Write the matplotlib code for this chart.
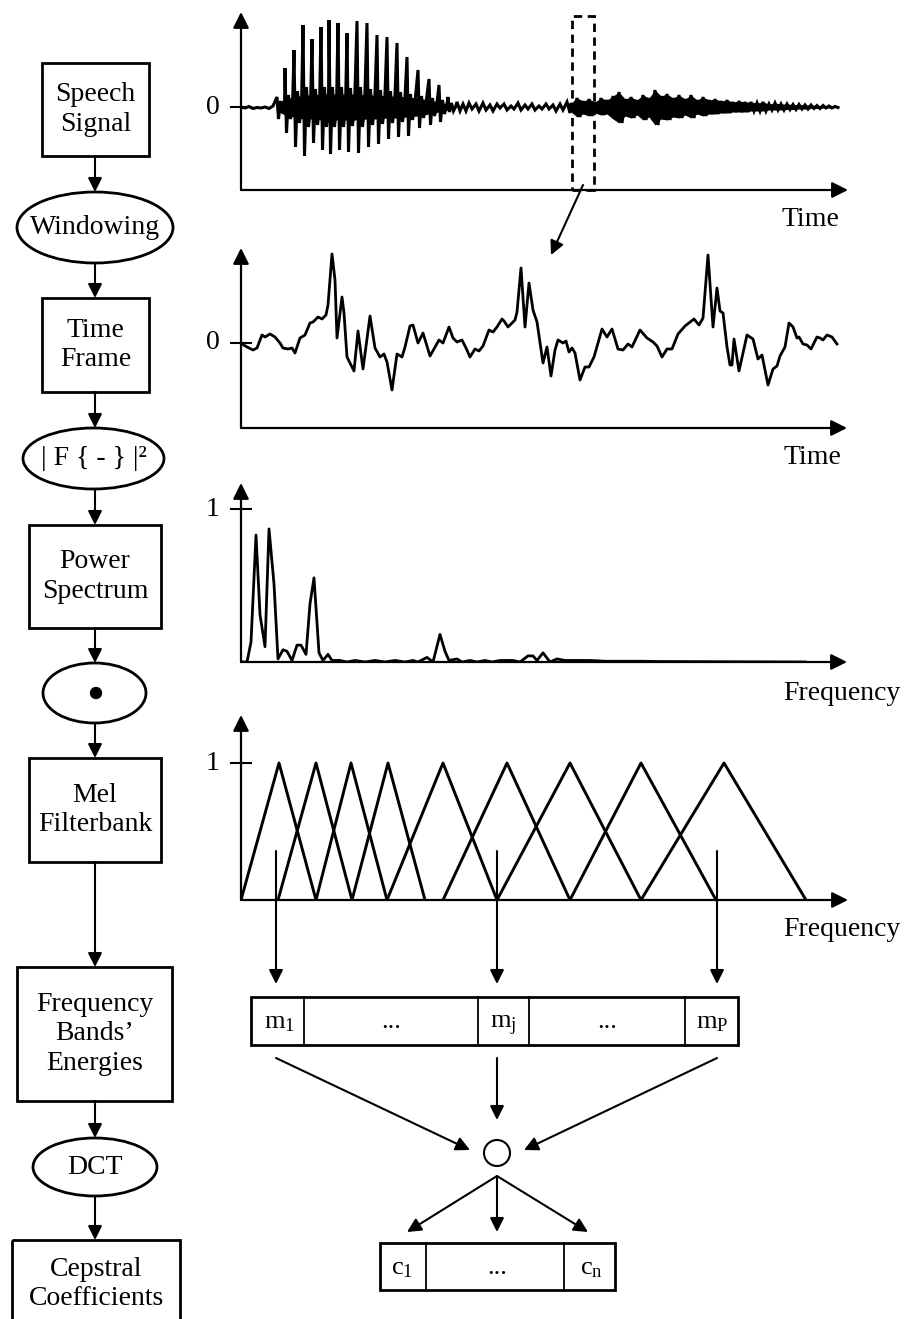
import matplotlib
matplotlib.use('Agg')
import matplotlib.pyplot as plt
from matplotlib.patches import Rectangle, Ellipse, Circle

plt.rcParams['font.family'] = ['Liberation Serif', 'DejaVu Serif']
plt.rcParams['mathtext.fontset'] = 'custom'
plt.rcParams['mathtext.rm'] = 'Liberation Serif'
plt.rcParams['mathtext.it'] = 'Liberation Serif:italic'

# ---- speech signal (samples, arbitrary amplitude) ----
lead_t = [0, 4, 8, 12, 16, 20, 24, 28, 32]
lead_a = [0, -1, 0.5, -1.5, -0.5, -1, 0, -1.5, 1]

# voiced part: one glottal pulse per pitch period
pulse_t = [36, 44, 53, 62, 71, 80, 88, 97, 106, 116, 126, 136, 146, 156, 166, 177, 188, 198, 207]
pulse_up = [10, 39, 57, 82, 68, 80, 87, 84, 74, 86, 84, 72, 70, 64, 50, 37, 28, 22, 10]
pulse_dn = [12, 26, 40, 49, 36, 43, 47, 43, 45, 46, 40, 37, 32, 30, 29, 21, 18, 15, 5]
pulse_mid = [6, 12, 16, 20, 18, 20, 20, 20, 19, 20, 18, 17, 16, 15, 13, 11, 9, 7, 4]
voiced_band = [4, 8, 10, 12, 12, 13, 13, 13, 13, 13, 12, 12, 11, 11, 10, 9, 7, 5, 3]

# quiet stretch between voiced and unvoiced parts
gap_t = [216, 219, 222, 225, 228, 231, 235, 238, 242, 245, 249, 252, 256, 259, 263, 266, 270,
         273, 277, 280, 284, 287, 291, 294, 298, 301, 305, 308, 312, 315, 319, 322, 326, 329]
gap_a = [5, -4, 3, -4, 4, -2, 3, -4, 4, -3, 2, -4, 3, -1, 3, -3, 1, -2, 4, -3, 2, -2, 3, -3,
         1, -2, 3, -2, 2, -4, 3, -3, 5, -6]

# unvoiced (noisy) part: envelope above / below zero
noise_t = [330, 336, 342, 348, 354, 360, 366, 372, 378, 384, 390, 396, 402, 408, 414,
           420, 426, 432, 438, 444, 450, 456, 462, 468, 474, 480, 486, 492, 498, 504,
           510, 516, 522, 528, 534, 540, 546, 552, 558, 564, 570, 576, 582, 588, 594]
noise_hi = [4, 9, 6, 8, 5, 9, 7, 11, 15, 8, 10, 7, 12, 9, 17, 11, 13, 9, 12, 8, 12, 7, 10, 7, 8,
            6, 7, 5, 6, 5, 5, 4, 5, 3, 4, 3, 3, 2.5, 2.5, 2, 2, 1.5, 1.5, 1, 0.5]
noise_lo = [5, 10, 7, 9, 6, 8, 7, 12, 16, 9, 11, 8, 13, 10, 18, 12, 13, 10, 11, 8, 11, 7, 9, 7, 7,
            6, 6, 5, 5, 5, 4, 4, 4, 3, 3, 3, 2.5, 2.5, 2, 2, 1.5, 1.5, 1, 1, 0.5]
frame_sel = (331, 353)

# ---- one time frame ----
frame_t = [1, 6, 12, 16, 21, 24, 29, 34, 39, 42,
           47, 51, 54, 59, 64, 69, 72, 77, 81, 85,
           87, 91, 94, 96, 101, 103, 106, 109, 113, 117,
           122, 129, 134, 139, 143, 146, 151, 156, 161, 164,
           169, 172, 177, 182, 189, 194, 198, 202, 208, 212,
           216, 221, 225, 229, 234, 238, 242, 248, 252, 256,
           261, 263, 267, 274, 276, 280, 284, 288, 292, 296,
           302, 306, 310, 314, 317, 322, 325, 328, 331, 334,
           339, 344, 348, 353, 361, 366, 371, 377, 382, 387,
           391, 399, 406, 412, 416, 421, 426, 431, 437, 444,
           453, 458, 462, 467, 472, 476, 479, 482, 486, 489,
           491, 493, 498, 506, 509, 512, 517, 521, 527, 532,
           536, 539, 544, 548, 552, 556, 558, 562, 566, 570,
           576, 579, 582, 586, 591, 596]
frame_a = [-1, -4, -7, -5, 8, 6, 9, 6, 0, -5,
           -6, -5, -10, 5, 8, 20, 21, 26, 24, 28,
           38, 89, 63, 5, 46, 30, -14, -20, -28, 12,
           -26, 27, -5, -14, -11, -19, -47, -11, -14, -4,
           17, 18, 0, 10, -13, -4, 3, 0, 16, 5,
           1, 3, -5, -14, -6, -8, -3, 13, 11, 16,
           24, 22, 16, 23, 31, 75, 16, 60, 33, 21,
           -20, -4, -33, -7, 3, 0, 2, -9, -5, -10,
           -37, -24, -24, -14, 14, 6, 14, -6, -7, -1,
           -4, 13, 5, 1, -3, -14, -6, -6, 9, 17,
           24, 18, 25, 88, 16, 55, 32, 30, -4, -22,
           -22, 4, -28, 8, 6, 4, -16, -12, -42, -26,
           -23, -13, -4, 20, 16, 5, 6, -1, -2, -6,
           6, 5, 3, 8, 6, -1]

# ---- power spectrum (normalised) ----
spec_f = [0, 6, 10, 15, 19, 24, 28, 33, 37, 42, 46, 51, 56, 60, 65, 69, 73, 78, 82, 87,
          91, 99, 106, 114, 124, 134, 144, 154, 164, 172, 177, 186, 192, 199, 204, 208,
          216, 221, 229, 236, 244, 251, 259, 272, 279, 287, 292, 296, 302, 309, 316, 324,
          334, 349, 364, 379, 399, 419, 564]
spec_p = [0, 0.0, 0.13, 0.83, 0.31, 0.10, 0.87, 0.51, 0.02, 0.08, 0.07, 0.01, 0.11, 0.11,
          0.05, 0.38, 0.55, 0.06, 0.01, 0.05, 0.01, 0.01, 0.0, 0.01, 0.0, 0.01, 0.0, 0.01,
          0.0, 0.01, 0.0, 0.03, 0.0, 0.18, 0.07, 0.01, 0.02, 0.0, 0.01, 0.0, 0.01, 0.0,
          0.01, 0.01, 0.0, 0.04, 0.04, 0.01, 0.06, 0.0, 0.02, 0.01, 0.01, 0.01, 0.005,
          0.005, 0.005, 0.003, 0.0]

# ---- mel filterbank triangles ----
mel_left = [0, 37, 75, 111, 146, 202, 256, 329, 400]
mel_peak = [38, 75, 110, 147, 202, 266, 329, 400, 483]
mel_right = [75, 111, 146, 184, 256, 329, 400, 475, 565]
mel_marks = [35, 256, 476]

m_labels = [r'$\mathrm{m}_1$', '...', r'$\mathrm{m}_\mathrm{j}$', '...', r'$\mathrm{m}_\mathrm{P}$']
c_labels = [r'$\mathrm{c}_1$', '...', r'$\mathrm{c}_\mathrm{n}$']

W, H = 907, 1319
FS = 20
fig = plt.figure(figsize=(W / 100, H / 100), dpi=100)
base = fig.add_axes([0, 0, 1, 1])
base.set_xlim(0, W)
base.set_ylim(H, 0)
base.axis('off')

HEAD = '-|>,head_length=0.6,head_width=0.3'


def arrow(ax, x0, y0, x1, y1, lw=1.5, ms=14, coords='data'):
    ax.annotate('', xy=(x1, y1), xytext=(x0, y0), xycoords=coords, textcoords=coords,
                annotation_clip=False,
                arrowprops=dict(arrowstyle=HEAD, lw=lw, color='k', mutation_scale=ms,
                                shrinkA=0, shrinkB=0))


def panel(top, bottom, right, xmax, ylim):
    ax = fig.add_axes([241 / W, 1 - bottom / H, (right - 241) / W, (bottom - top) / H])
    ax.set_xlim(0, xmax)
    ax.set_ylim(*ylim)
    ax.axis('off')
    arrow(ax, 0, 0, 1, 0, lw=1.6, ms=16, coords='axes fraction')
    arrow(ax, 0, 0, 0, 1, lw=1.6, ms=16, coords='axes fraction')
    return ax


def ytick(ax, y, label):
    ax.plot([-10, 10], [y, y], color='k', lw=1.5, clip_on=False)
    ax.text(-28, y, label, fontsize=FS, ha='center', va='center')


# panel 1: speech signal
ax1 = panel(12, 190, 848, 607, (-83, 95))
wt, wa = list(lead_t), list(lead_a)
for t, up, dn, mid in zip(pulse_t, pulse_up, pulse_dn, pulse_mid):
    wt += [t, t + 1.5, t + 3.5, t + 5.5, t + 7.5]
    wa += [up, -dn, mid, -mid, 0]
wt += gap_t
wa += gap_a
for t, hi, lo in zip(noise_t, noise_hi, noise_lo):
    wt += [t, t + 3]
    wa += [hi, -lo]
ax1.fill_between(pulse_t, [-b for b in voiced_band], voiced_band, color='k', lw=0)
ax1.fill_between(noise_t, [-v for v in noise_lo], noise_hi, color='k', lw=0)
ax1.plot(wt, wa, color='k', lw=2.2, solid_joinstyle='miter')
ytick(ax1, 0, '0')
ax1.add_patch(Rectangle((frame_sel[0], -83), frame_sel[1] - frame_sel[0], 174, fill=False,
                        lw=2, ls=(0, (3, 2)), clip_on=False))
base.text(810, 220, 'Time', fontsize=FS, ha='center', va='center')
arrow(base, 583, 185, 551, 255)

# panel 2: time frame
ax2 = panel(248, 428, 847, 606, (-85, 95))
ax2.plot(frame_t, frame_a, color='k', lw=2.0)
ytick(ax2, 0, '0')
base.text(812, 458, 'Time', fontsize=FS, ha='center', va='center')

# panel 3: power spectrum
ax3 = panel(483, 662, 847, 606, (0, 179 / 153))
ax3.plot(spec_f, spec_p, color='k', lw=2.0)
ytick(ax3, 1, '1')
base.text(842, 693, 'Frequency', fontsize=FS, ha='center', va='center')

# panel 4: mel filterbank
ax4 = panel(715, 900, 848, 607, (0, 185 / 137))
for l, c, r in zip(mel_left, mel_peak, mel_right):
    ax4.plot([l, c, r], [0, 1, 0], color='k', lw=2.1)
ytick(ax4, 1, '1')
base.text(842, 930, 'Frequency', fontsize=FS, ha='center', va='center')

# positions of selected filter channels in figure pixels
to_base = base.transData.inverted()
mark_x = [to_base.transform(ax4.transData.transform((t, 0)))[0] for t in mel_marks]
dy = -17
for x in mark_x:
    arrow(base, x, 851, x, 1001 + dy)

# filterbank energy vector
base.add_patch(Rectangle((251, 1014 + dy), 487, 48, fill=False, lw=2))
for x in [304, 478, 529, 685]:
    base.plot([x, x], [1014 + dy, 1062 + dy], color='k', lw=1.3)
for x, lab in zip([279, 391, 503, 607, 712], m_labels):
    base.text(x, 1045 + dy, lab, fontsize=19, ha='center', va='baseline')

# DCT node
base.add_patch(Circle((497, 1170 + dy), 13, fill=False, lw=1.5))
arrow(base, mark_x[0], 1075 + dy, 470, 1167 + dy)
arrow(base, mark_x[1], 1075 + dy, mark_x[1], 1137 + dy)
arrow(base, mark_x[2], 1075 + dy, 524, 1167 + dy)
for x in [407, 497, 588]:
    arrow(base, 497, 1193 + dy, x, 1249 + dy)

# cepstral vector
base.add_patch(Rectangle((380, 1260 + dy), 235, 47, fill=False, lw=2))
for x in [426, 564]:
    base.plot([x, x], [1260 + dy, 1307 + dy], color='k', lw=1.3)
for x, lab in zip([402, 497, 591], c_labels):
    base.text(x, 1291 + dy, lab, fontsize=19, ha='center', va='baseline')

# ---- flowchart on the left ----
boxes = [('Speech\nSignal', 42, 63, 149, 156),
         ('Time\nFrame', 42, 298, 149, 392),
         ('Power\nSpectrum', 29, 525, 161, 628),
         ('Mel\nFilterbank', 29, 758, 161, 862),
         ('Frequency\nBands\u2019\nEnergies', 17, 967, 172, 1101),
         ('Cepstral\nCoefficients', 12, 1240, 180, 1332)]
for lab, x0, y0, x1, y1 in boxes:
    base.add_patch(Rectangle((x0, y0), x1 - x0, y1 - y0, fill=False, lw=2, clip_on=False))
    cy = (y0 + y1) / 2 if y1 < H else 1284
    base.text((x0 + x1) / 2, cy, lab, fontsize=FS, ha='center', va='center',
              linespacing=1.25)

ovals = [('Windowing', 95, 227.5, 156, 71),
         ('| F { - } |\u00b2', 93.5, 458.5, 141, 61),
         ('', 94.5, 693, 103, 60),
         ('DCT', 95, 1167, 124, 58)]
for lab, cx, cy, w, h in ovals:
    base.add_patch(Ellipse((cx, cy), w, h, fill=False, lw=2))
    if lab:
        base.text(cx, cy, lab, fontsize=FS, ha='center', va='center')
base.add_patch(Circle((96, 693), 5.5, color='k'))

for y0, y1 in [(156, 192), (263, 298), (392, 428), (489, 525), (628, 663),
               (723, 758), (862, 967), (1101, 1138), (1196, 1240)]:
    arrow(base, 95, y0, 95, y1)

fig.savefig('out.png', dpi=100)
